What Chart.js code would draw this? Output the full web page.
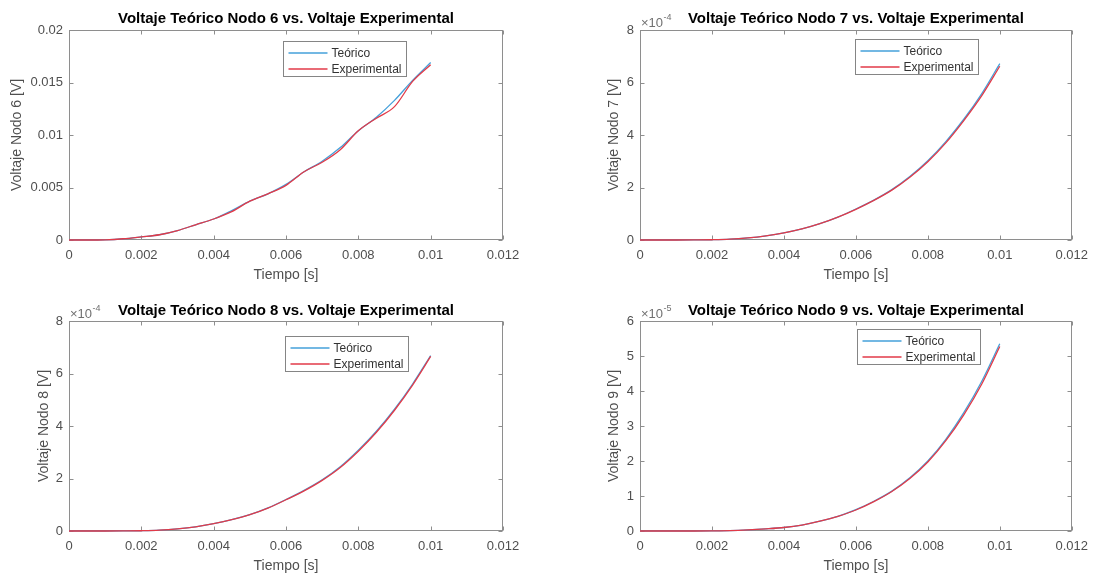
<!DOCTYPE html>
<html><head><meta charset="utf-8">
<script src="https://cdn.jsdelivr.net/npm/chart.js@4.4.1/dist/chart.umd.min.js"></script>
<style>
html,body{margin:0;padding:0;background:#fff;}
#wrap{position:relative;width:1096px;height:575px;overflow:hidden;background:#fff;}
canvas{position:absolute;display:block;}
</style></head><body>
<div id="wrap">
<canvas id="c6" width="548" height="287" style="left:0;top:0"></canvas>
<canvas id="c7" width="548" height="287" style="left:548px;top:0"></canvas>
<canvas id="c8" width="548" height="288" style="left:0;top:287px"></canvas>
<canvas id="c9" width="548" height="288" style="left:548px;top:287px"></canvas>
</div>
<script>
// ---- data ----
const tiempo = [0,0.0005,0.001,0.0015,0.002,0.0025,0.003,0.0035,0.004,0.0045,0.005,0.0055,0.006,0.0065,0.007,0.0075,0.008,0.0085,0.009,0.0095,0.01];

const teorico6 = [0,0,0.00002,0.00012,0.0003,0.0005,0.0009,0.00145,0.002,0.0028,0.0037,0.0044,0.0053,0.0065,0.0075,0.0088,0.0104,0.0117,0.0133,0.0152,0.0169];
const experimental6 = [0,0,0.00002,0.00012,0.0003,0.0005,0.0009,0.00145,0.002,0.0027,0.0037,0.0044,0.0052,0.0065,0.0074,0.0086,0.0104,0.0116,0.0127,0.0151,0.0167];

const teorico7 = [0,0,0,0.3e-6,1e-6,3e-6,8e-6,16e-6,27e-6,42e-6,62e-6,87e-6,118e-6,152e-6,192e-6,242e-6,302e-6,375e-6,460e-6,558e-6,672e-6];
const experimental7 = [0,0,0,0.3e-6,1e-6,3e-6,8e-6,16e-6,27e-6,42e-6,62e-6,87e-6,117e-6,151e-6,190e-6,239e-6,298e-6,370e-6,455e-6,550e-6,662e-6];

const teorico8 = [0,0,0,0.3e-6,1e-6,3e-6,8e-6,16e-6,28e-6,43e-6,62e-6,88e-6,120e-6,155e-6,195e-6,245e-6,308e-6,380e-6,464e-6,560e-6,668e-6];
const experimental8 = [0,0,0,0.3e-6,1e-6,3e-6,8e-6,16e-6,28e-6,43e-6,62e-6,87e-6,119e-6,153e-6,193e-6,242e-6,304e-6,376e-6,460e-6,556e-6,665e-6];

const teorico9 = [0,0,0,0,0.03e-6,0.1e-6,0.3e-6,0.6e-6,1.0e-6,1.7e-6,2.8e-6,4.2e-6,6.1e-6,8.5e-6,11.4e-6,15.2e-6,20.0e-6,26.2e-6,33.8e-6,42.8e-6,53.5e-6];
const experimental9 = [0,0,0,0,0.03e-6,0.1e-6,0.3e-6,0.6e-6,1.0e-6,1.7e-6,2.8e-6,4.2e-6,6.0e-6,8.4e-6,11.3e-6,15.0e-6,19.7e-6,25.8e-6,33.2e-6,42.0e-6,52.7e-6];

const xTickValues = [0,0.002,0.004,0.006,0.008,0.01,0.012];
const xTickLabels = ['0','0.002','0.004','0.006','0.008','0.01','0.012'];
const yTickValues6 = [0,0.005,0.01,0.015,0.02];
const yTickLabels6 = ['0','0.005','0.01','0.015','0.02'];
const yTickValues78 = [0,2e-4,4e-4,6e-4,8e-4];
const yTickLabels78 = ['0','2','4','6','8'];
const yTickValues9 = [0,1e-5,2e-5,3e-5,4e-5,5e-5,6e-5];
const yTickLabels9 = ['0','1','2','3','4','5','6'];

const seriesLabels = ['Teórico','Experimental'];
const seriesColors = ['#45a0da','#e23a48'];

// ---- styling ----
const FONT = '"Liberation Sans", Arial, Helvetica, sans-serif';
const GRAY = '#4f4f4f';
const AXIS = '#8e8e8e';

const framePlugin = {
  id: 'frame',
  beforeDatasetsDraw(chart, args, opts) {
    const {ctx, chartArea: a} = chart;
    const xs = chart.scales.x, ys = chart.scales.y;
    ctx.save();
    ctx.strokeStyle = AXIS; ctx.lineWidth = 1;
    const L = Math.round(a.left) + 0.5, R = Math.round(a.right) - 0.5;
    const T = Math.round(a.top) + 0.5, B = Math.round(a.bottom) - 0.5;
    ctx.strokeRect(L, T, R - L, B - T);
    const tl = 4;
    ctx.beginPath();
    xs.ticks.forEach(t => {
      const px = Math.round(xs.getPixelForValue(t.value)) + 0.5;
      ctx.moveTo(px, B); ctx.lineTo(px, B - tl);
      ctx.moveTo(px, T); ctx.lineTo(px, T + tl);
    });
    ys.ticks.forEach(t => {
      const py = Math.round(ys.getPixelForValue(t.value)) + 0.5;
      ctx.moveTo(L, py); ctx.lineTo(L + tl, py);
      ctx.moveTo(R, py); ctx.lineTo(R - tl, py);
    });
    ctx.stroke();

    // exponent label
    if (opts.exp) {
      ctx.fillStyle = '#707070';
      ctx.textBaseline = 'alphabetic'; ctx.textAlign = 'left';
      ctx.font = '13px ' + FONT;
      const bx = a.left + 1, by = a.top - 3;
      ctx.fillText('\u00d710', bx, by);
      const w = ctx.measureText('\u00d710').width;
      ctx.font = '9px ' + FONT;
      ctx.fillText(opts.exp, bx + w + 0.5, by - 7);
    }
    ctx.restore();
  },
  afterDatasetsDraw(chart, args, opts) {
    const {ctx, chartArea: a} = chart;
    ctx.save();
    const bw = 123, bh = 35;
    const lx = Math.round(a.right - opts.legendRight - bw) + 0.5;
    const ly = Math.round(a.top + opts.legendTop) + 0.5;
    ctx.fillStyle = '#fff';
    ctx.fillRect(lx, ly, bw, bh);
    ctx.strokeStyle = '#858585'; ctx.lineWidth = 1;
    ctx.strokeRect(lx, ly, bw, bh);
    ctx.font = '12px ' + FONT;
    ctx.textBaseline = 'middle'; ctx.textAlign = 'left';
    chart.data.datasets.forEach((ds, i) => {
      const yy = Math.round(ly + 11 + i * 16);
      ctx.strokeStyle = ds.borderColor; ctx.lineWidth = 1.5;
      ctx.beginPath(); ctx.moveTo(lx + 5, yy); ctx.lineTo(lx + 44, yy); ctx.stroke();
      ctx.fillStyle = '#333';
      ctx.fillText(ds.label, lx + 48, yy + 0.5);
    });
    ctx.restore();
  }
};

function makeChart(id, cfg) {
  const pts = arr => tiempo.map((t, i) => ({x: t, y: arr[i]}));
  new Chart(document.getElementById(id), {
    type: 'line',
    data: {
      datasets: [
        {label: seriesLabels[0], data: pts(cfg.teo), borderColor: seriesColors[0], borderWidth: 1.3, pointRadius: 0, cubicInterpolationMode: 'monotone', fill: false, order: 1, clip: false},
        {label: seriesLabels[1], data: pts(cfg.exp), borderColor: seriesColors[1], borderWidth: 1.3, pointRadius: 0, cubicInterpolationMode: 'monotone', fill: false, order: 0, clip: false}
      ]
    },
    options: {
      responsive: false,
      animation: false,
      devicePixelRatio: 1,
      layout: {padding: {left: 0, right: cfg.padRight, top: 0, bottom: 0}},
      plugins: {
        legend: {display: false},
        tooltip: {enabled: false},
        title: {
          display: true, text: cfg.title, fullSize: false,
          color: '#000', font: {family: FONT, size: 15, weight: 'bold', lineHeight: 1.2},
          padding: {top: cfg.titleTop, bottom: cfg.titleBottom}
        },
        frame: {exp: cfg.exp10, legendRight: cfg.legendRight, legendTop: cfg.legendTop}
      },
      scales: {
        x: {
          type: 'linear', min: 0, max: 0.012,
          afterBuildTicks: s => { s.ticks = xTickValues.map(v => ({value: v})); },
          afterFit: s => { s.height = cfg.xHeight; },
          grid: {display: false, drawTicks: false},
          border: {display: false},
          ticks: {color: GRAY, font: {family: FONT, size: 13}, padding: 8, maxRotation: 0,
                  callback: (v, i) => xTickLabels[i]},
          title: {display: true, text: 'Tiempo [s]', color: GRAY, font: {family: FONT, size: 14},
                  padding: {top: 0, bottom: cfg.xTitlePad}}
        },
        y: {
          type: 'linear', min: 0, max: cfg.yMax,
          afterBuildTicks: s => { s.ticks = cfg.yVals.map(v => ({value: v})); },
          afterFit: s => { s.width = cfg.yWidth; },
          grid: {display: false, drawTicks: false},
          border: {display: false},
          ticks: {color: GRAY, font: {family: FONT, size: 13}, padding: 6,
                  callback: (v, i) => cfg.yLabels[i]},
          title: {display: true, text: cfg.yTitle, color: GRAY, font: {family: FONT, size: 14},
                  padding: {top: cfg.yTitlePad, bottom: 0}}
        }
      }
    },
    plugins: [framePlugin]
  });
}

makeChart('c6', {
  title: 'Voltaje Teórico Nodo 6 vs. Voltaje Experimental', yTitle: 'Voltaje Nodo 6 [V]',
  teo: teorico6, exp: experimental6, yMax: 0.02, yVals: yTickValues6, yLabels: yTickLabels6, exp10: null,
  padRight: 45, yWidth: 69, xHeight: 47, titleTop: 10, titleBottom: 2,
  xTitlePad: 3.6, yTitlePad: 9, legendRight: 97, legendTop: 11
});
makeChart('c7', {
  title: 'Voltaje Teórico Nodo 7 vs. Voltaje Experimental', yTitle: 'Voltaje Nodo 7 [V]',
  teo: teorico7, exp: experimental7, yMax: 8e-4, yVals: yTickValues78, yLabels: yTickLabels78, exp10: '-4',
  padRight: 23, yWidth: 92, xHeight: 47, titleTop: 10, titleBottom: 2,
  xTitlePad: 3.6, yTitlePad: 57.6, legendRight: 94, legendTop: 9
});
makeChart('c8', {
  title: 'Voltaje Teórico Nodo 8 vs. Voltaje Experimental', yTitle: 'Voltaje Nodo 8 [V]',
  teo: teorico8, exp: experimental8, yMax: 8e-4, yVals: yTickValues78, yLabels: yTickLabels78, exp10: '-4',
  padRight: 45, yWidth: 69, xHeight: 44, titleTop: 15, titleBottom: 1,
  xTitlePad: 0.6, yTitlePad: 35.6, legendRight: 95, legendTop: 15
});
makeChart('c9', {
  title: 'Voltaje Teórico Nodo 9 vs. Voltaje Experimental', yTitle: 'Voltaje Nodo 9 [V]',
  teo: teorico9, exp: experimental9, yMax: 6e-5, yVals: yTickValues9, yLabels: yTickLabels9, exp10: '-5',
  padRight: 23, yWidth: 92, xHeight: 44, titleTop: 15, titleBottom: 1,
  xTitlePad: 0.6, yTitlePad: 58, legendRight: 92, legendTop: 8
});
</script>
</body></html>
